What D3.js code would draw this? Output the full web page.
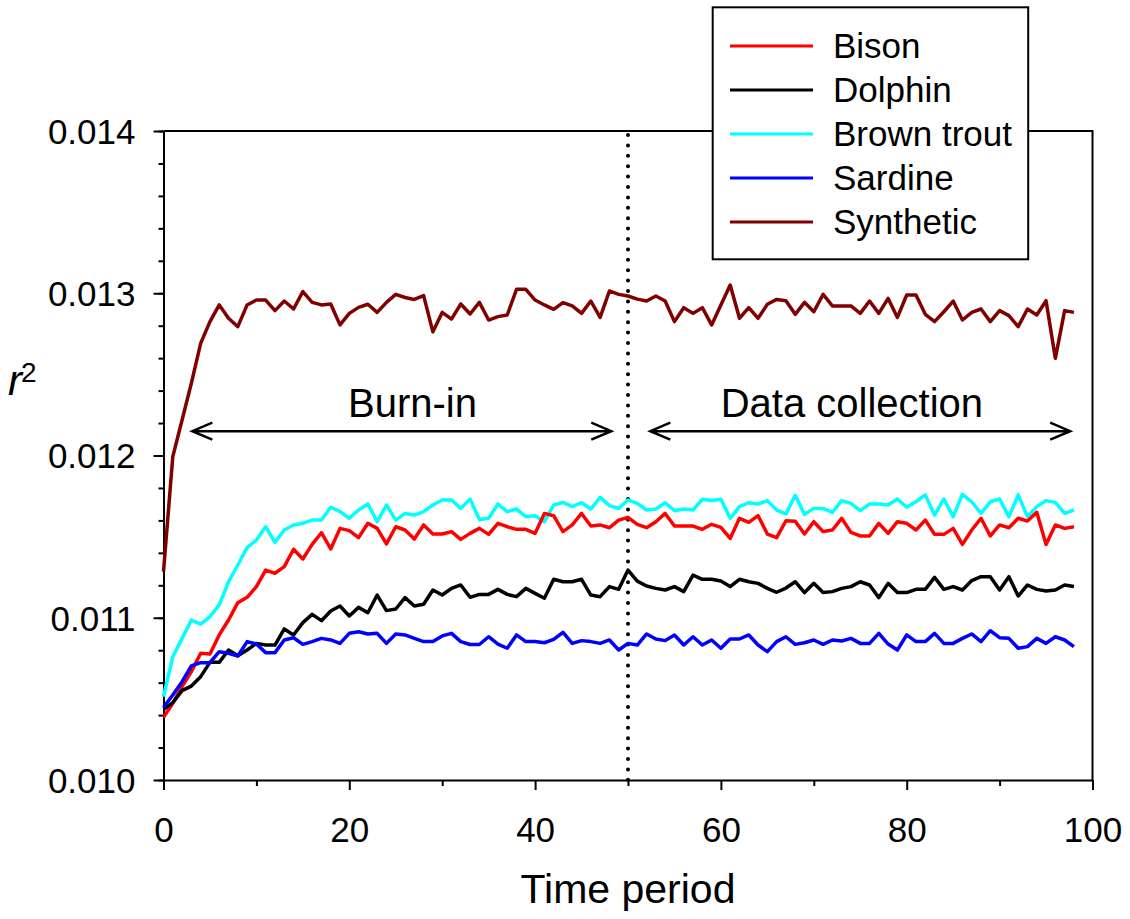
<!DOCTYPE html>
<html>
<head>
<meta charset="utf-8">
<script src="https://cdn.jsdelivr.net/npm/d3@7"></script>
<style>
  body { margin: 0; background: #fff; }
  text { font-family: "Liberation Sans", Arial, sans-serif; fill: #000; }
</style>
</head>
<body>
<svg id="chart" width="1130" height="919"></svg>
<script>
// time periods 0..98
const periods = d3.range(0, 99);

const bison = [0.010386,0.010473,0.010575,0.010668,0.010781,0.010777,0.010894,0.010986,0.011093,0.011126,
  0.011192,0.011294,0.011274,0.011315,0.011422,0.011362,0.011452,0.011524,0.011424,0.011551,
  0.011537,0.011494,0.011582,0.011551,0.011455,0.011561,0.011541,0.011485,0.011572,0.011516,
  0.011516,0.011531,0.011483,0.011520,0.011551,0.011514,0.011582,0.011561,0.011545,0.011545,
  0.011520,0.011643,0.011629,0.011531,0.011572,0.011643,0.011565,0.011572,0.011555,0.011602,
  0.011619,0.011576,0.011555,0.011592,0.011643,0.011565,0.011565,0.011565,0.011545,0.011576,
  0.011557,0.011489,0.011613,0.011588,0.011629,0.011516,0.011494,0.011598,0.011595,0.011516,
  0.011592,0.011531,0.011541,0.011613,0.011526,0.011504,0.011504,0.011582,0.011520,0.011592,
  0.011582,0.011541,0.011602,0.011514,0.011514,0.011551,0.011452,0.011541,0.011613,0.011504,
  0.011572,0.011555,0.011613,0.011596,0.011650,0.011452,0.011572,0.011551,0.011561];

const dolphin = [0.010436,0.010477,0.010551,0.010579,0.010637,0.010725,0.010725,0.010801,0.010766,0.010801,
  0.010842,0.010832,0.010832,0.010931,0.010894,0.010970,0.011021,0.010982,0.011042,0.011072,
  0.011011,0.011064,0.011031,0.011140,0.011044,0.011054,0.011124,0.011072,0.011083,0.011171,
  0.011140,0.011181,0.011202,0.011126,0.011144,0.011144,0.011175,0.011144,0.011130,0.011181,
  0.011150,0.011120,0.011237,0.011222,0.011222,0.011237,0.011140,0.011130,0.011192,0.011175,
  0.011294,0.011226,0.011196,0.011181,0.011171,0.011192,0.011161,0.011263,0.011237,0.011237,
  0.011226,0.011192,0.011237,0.011222,0.011212,0.011181,0.011157,0.011183,0.011222,0.011155,
  0.011212,0.011155,0.011161,0.011181,0.011192,0.011222,0.011202,0.011124,0.011212,0.011155,
  0.011155,0.011175,0.011175,0.011249,0.011175,0.011192,0.011171,0.011229,0.011253,0.011253,
  0.011171,0.011253,0.011134,0.011202,0.011175,0.011165,0.011171,0.011202,0.011192];

const brownTrout = [0.010514,0.010760,0.010873,0.010986,0.010961,0.011007,0.011079,0.011222,0.011325,0.011432,
  0.011479,0.011561,0.011465,0.011541,0.011572,0.011582,0.011602,0.011602,0.011681,0.011654,
  0.011613,0.011664,0.011701,0.011592,0.011695,0.011602,0.011643,0.011633,0.011654,0.011695,
  0.011726,0.011726,0.011674,0.011732,0.011605,0.011613,0.011701,0.011654,0.011670,0.011623,
  0.011629,0.011592,0.011695,0.011711,0.011685,0.011709,0.011670,0.011742,0.011691,0.011674,
  0.011726,0.011705,0.011664,0.011670,0.011709,0.011660,0.011670,0.011664,0.011730,0.011722,
  0.011730,0.011613,0.011685,0.011709,0.011701,0.011722,0.011664,0.011640,0.011755,0.011637,
  0.011674,0.011674,0.011650,0.011722,0.011705,0.011660,0.011701,0.011701,0.011695,0.011732,
  0.011681,0.011715,0.011757,0.011633,0.011732,0.011623,0.011761,0.011715,0.011643,0.011715,
  0.011732,0.011623,0.011757,0.011623,0.011685,0.011722,0.011711,0.011643,0.011664];

const sardine = [0.010448,0.010524,0.010606,0.010703,0.010723,0.010723,0.010791,0.010781,0.010764,0.010853,
  0.010838,0.010785,0.010785,0.010863,0.010877,0.010836,0.010853,0.010873,0.010863,0.010842,
  0.010904,0.010914,0.010900,0.010904,0.010842,0.010900,0.010894,0.010873,0.010853,0.010853,
  0.010888,0.010904,0.010853,0.010835,0.010835,0.010883,0.010838,0.010812,0.010894,0.010853,
  0.010853,0.010846,0.010867,0.010910,0.010842,0.010859,0.010853,0.010842,0.010863,0.010801,
  0.010842,0.010832,0.010900,0.010869,0.010859,0.010894,0.010832,0.010883,0.010832,0.010863,
  0.010812,0.010869,0.010869,0.010894,0.010832,0.010791,0.010853,0.010883,0.010836,0.010846,
  0.010863,0.010836,0.010863,0.010857,0.010873,0.010842,0.010842,0.010904,0.010838,0.010801,
  0.010894,0.010853,0.010853,0.010904,0.010842,0.010842,0.010873,0.010900,0.010853,0.010920,
  0.010877,0.010873,0.010812,0.010822,0.010873,0.010842,0.010883,0.010863,0.010822];

const synthetic = [0.011284,0.011993,0.012219,0.012445,0.012691,0.012825,0.012928,0.012846,0.012794,0.012928,
  0.012958,0.012958,0.012893,0.012952,0.012903,0.013010,0.012944,0.012928,0.012934,0.012805,
  0.012876,0.012913,0.012932,0.012882,0.012944,0.012993,0.012974,0.012962,0.012985,0.012762,
  0.012882,0.012841,0.012934,0.012872,0.012944,0.012835,0.012856,0.012866,0.013024,0.013024,
  0.012958,0.012928,0.012901,0.012942,0.012922,0.012876,0.012952,0.012851,0.013014,0.012993,
  0.012983,0.012964,0.012952,0.012983,0.012952,0.012825,0.012911,0.012876,0.012911,0.012805,
  0.012928,0.013051,0.012846,0.012911,0.012846,0.012932,0.012962,0.012954,0.012870,0.012944,
  0.012886,0.012993,0.012922,0.012922,0.012922,0.012876,0.012952,0.012876,0.012968,0.012851,
  0.012989,0.012989,0.012870,0.012825,0.012886,0.012952,0.012835,0.012882,0.012903,0.012825,
  0.012893,0.012862,0.012794,0.012903,0.012866,0.012954,0.012599,0.012893,0.012882];

const seriesNames = ["Bison", "Dolphin", "Brown trout", "Sardine", "Synthetic"];
const seriesColors = ["#ff0000", "#000000", "#00ffff", "#0000ff", "#800000"];
const seriesValues = [bison, dolphin, brownTrout, sardine, synthetic];

const xTicks = [0, 20, 40, 60, 80, 100];
const xMinorTicks = [10, 30, 50, 70, 90];
const yTicks = [0.010, 0.011, 0.012, 0.013, 0.014];
const yMinorTicks = d3.range(0, 21).map(i => 0.010 + i * 0.0002);

// annotation: phase boundary and arrow spans
const splitPeriod = 50;
const phases = [
  { label: "Burn-in", from: 3.1, to: 48.2, mid: 26.8 },
  { label: "Data collection", from: 52.4, to: 97.6, mid: 74.1 }
];
const arrowLevel = 0.01215;

const svg = d3.select('#chart');
const plotL = 163.5, plotR = 1092.5, plotT = 131, plotB = 780;

const x = d3.scaleLinear().domain([0, 100]).range([plotL, plotR]);
const y = d3.scaleLinear().domain([0.010, 0.014]).range([plotB, plotT]);

// frame top + right
svg.append('path')
  .attr('d', `M${plotL},${plotT}H${plotR}V${plotB}`)
  .attr('fill', 'none').attr('stroke', '#000').attr('stroke-width', 2);

// minor ticks
svg.append('g').attr('transform', `translate(${plotL},0)`)
  .call(d3.axisLeft(y).tickValues(yMinorTicks).tickSize(5).tickSizeOuter(0).tickFormat(''))
  .call(g => g.select('.domain').remove())
  .selectAll('line').attr('stroke-width', 2);
svg.append('g').attr('transform', `translate(0,${plotB})`)
  .call(d3.axisBottom(x).tickValues(xMinorTicks).tickSize(6).tickSizeOuter(0).tickFormat(''))
  .call(g => g.select('.domain').remove())
  .selectAll('line').attr('stroke-width', 2);

// major axes
const yAxis = svg.append('g').attr('transform', `translate(${plotL},0)`)
  .call(d3.axisLeft(y).tickValues(yTicks).tickSize(10).tickSizeOuter(0).tickPadding(18).tickFormat(d3.format('.3f')));
const xAxis = svg.append('g').attr('transform', `translate(0,${plotB})`)
  .call(d3.axisBottom(x).tickValues(xTicks).tickSize(10).tickSizeOuter(0).tickPadding(27));
[yAxis, xAxis].forEach(g => {
  g.select('.domain').attr('stroke-width', 2);
  g.selectAll('line').attr('stroke-width', 2);
  g.selectAll('text').attr('font-size', 35).attr('font-family', '"Liberation Sans", Arial, sans-serif').attr('fill', '#000');
});
yAxis.selectAll('text').attr('dy', '0.35em');

// dotted split line
svg.append('line')
  .attr('x1', x(splitPeriod)).attr('x2', x(splitPeriod))
  .attr('y1', plotT + 4).attr('y2', plotB)
  .attr('stroke', '#000').attr('stroke-width', 4)
  .attr('stroke-linecap', 'round').attr('stroke-dasharray', '0,10.4');

// series, drawn so that the ordering of overlaps matches
const line = d3.line().x((d, i) => x(periods[i])).y(d => y(d));
const drawOrder = [2, 0, 1, 3, 4];
drawOrder.forEach(k => {
  svg.append('path')
    .datum(seriesValues[k])
    .attr('d', line)
    .attr('fill', 'none')
    .attr('stroke', seriesColors[k])
    .attr('stroke-width', 3.5)
    .attr('stroke-linejoin', 'round');
});

// phase arrows
const ay = y(arrowLevel);
phases.forEach(p => {
  const x0 = x(p.from), x1 = x(p.to);
  svg.append('path')
    .attr('d', `M${x0},${ay}H${x1}M${x0 + 20},${ay - 8.5}L${x0},${ay}L${x0 + 20},${ay + 8.5}M${x1 - 20},${ay - 8.5}L${x1},${ay}L${x1 - 20},${ay + 8.5}`)
    .attr('fill', 'none').attr('stroke', '#000').attr('stroke-width', 2.5);
  svg.append('text')
    .attr('x', x(p.mid)).attr('y', ay - 14)
    .attr('text-anchor', 'middle').attr('font-size', 40)
    .text(p.label);
});

// axis titles
svg.append('text')
  .attr('x', (plotL + plotR) / 2).attr('y', 903)
  .attr('text-anchor', 'middle').attr('font-size', 41)
  .text('Time period');
svg.append('text')
  .attr('x', 8).attr('y', 395)
  .attr('font-size', 42).attr('font-style', 'italic')
  .text('r');
svg.append('text')
  .attr('x', 21).attr('y', 381.5)
  .attr('font-size', 28)
  .text('2');

// legend
const legend = svg.append('g');
legend.append('rect')
  .attr('x', 712.7).attr('y', 7.3).attr('width', 315.5).attr('height', 252)
  .attr('fill', '#fff').attr('stroke', '#000').attr('stroke-width', 2);
seriesNames.forEach((name, i) => {
  const ry = 46 + i * 44;
  legend.append('line')
    .attr('x1', 730).attr('x2', 813).attr('y1', ry).attr('y2', ry)
    .attr('stroke', seriesColors[i]).attr('stroke-width', 3);
  legend.append('text')
    .attr('x', 833).attr('y', ry + 12)
    .attr('font-size', 35)
    .text(name);
});
</script>
</body>
</html>
